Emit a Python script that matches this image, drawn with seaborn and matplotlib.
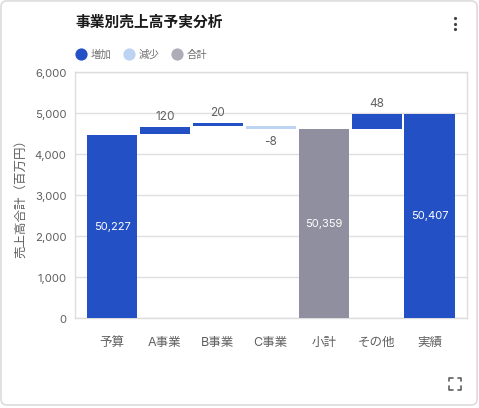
import matplotlib
matplotlib.use("Agg")
import matplotlib.pyplot as plt
import seaborn as sns
from matplotlib.lines import Line2D
from matplotlib.patches import FancyBboxPatch

categories = ["予算", "A事業", "B事業", "C事業", "小計", "その他", "実績"]
bar_bottoms = [0, 4500, 4695, 4630, 0, 4620, 0]
bar_tops = [4475, 4678, 4768, 4695, 4620, 4995, 4995]
kinds = ["増加", "増加", "増加", "減少", "合計", "増加", "増加"]
value_labels = ["50,227", "120", "20", "-8", "50,359", "48", "50,407"]
inside = [True, False, False, False, True, False, True]
yticks = [0, 1000, 2000, 3000, 4000, 5000, 6000]
legend_names = ["増加", "減少", "合計"]

W, H = 479, 408
BLUE = "#2350c5"
LIGHT = "#bcd3f2"
GREY = "#908f9f"
colors = {"増加": BLUE, "減少": LIGHT, "合計": GREY}
legend_colors = {"増加": BLUE, "減少": LIGHT, "合計": "#adadb8"}

sns.set_theme(style="white")
plt.rcParams["font.family"] = ["Inter", "Noto Sans CJK JP", "DejaVu Sans"]

fig = plt.figure(figsize=((W + 0.1) / 100, (H + 0.1) / 100), dpi=100)

# card behind everything, coordinates in pixels
bg = fig.add_axes([0, 0, 1, 1], zorder=0)
bg.set_xlim(0, W)
bg.set_ylim(H, 0)
bg.axis("off")
bg.add_patch(FancyBboxPatch((1, 1), W - 3, H - 4, boxstyle="round,pad=0,rounding_size=6",
                            fc="white", ec="#dcdcdc", lw=1.2))

ax = fig.add_axes([75 / W, 1 - 318.5 / H, (466.5 - 75) / W, (318.5 - 72.5) / H], zorder=1)
ax.patch.set_alpha(0)

for cat, b, t, k in zip(categories, bar_bottoms, bar_tops, kinds):
    sns.barplot(x=[cat], y=[t - b], order=categories, bottom=b, color=colors[k],
                saturation=1, width=0.95, gap=0, ax=ax, zorder=3, linewidth=0)

ax.set_xlim(-0.7, 6.7)
ax.set_ylim(0, 6000)
ax.set_yticks(yticks)
ax.set_yticklabels([f"{v:,}" for v in yticks], fontsize=8.2, color="#606060")
ax.set_xlabel("")
ax.set_ylabel("")
ax.tick_params(axis="x", length=0, pad=13, labelsize=9, labelcolor="#606060")
ax.tick_params(axis="y", length=0, pad=6)
ax.grid(axis="y", color="#e0e0e0", lw=1, zorder=0)
ax.set_axisbelow(True)
for s in ax.spines.values():
    s.set_color("#dddddd")
    s.set_linewidth(1)

# value labels
for i, (b, t, lab, ins) in enumerate(zip(bar_bottoms, bar_tops, value_labels, inside)):
    if ins:
        ax.text(i, (b + t) / 2, lab, ha="center", va="center", fontsize=8, color="white", zorder=5)
    elif lab.startswith("-"):
        ax.annotate(lab, (i, b), xytext=(0, -5), textcoords="offset points", ha="center", va="top",
                    fontsize=8.5, color="#606060", zorder=5)
    else:
        ax.annotate(lab, (i, t), xytext=(0, 3), textcoords="offset points", ha="center", va="bottom",
                    fontsize=8.5, color="#606060", zorder=5)

bg.text(75, 22.5, "事業別売上高予実分析", fontsize=10.6, fontweight="bold", color="#1a1a1a", va="center")
bg.text(21, 195, "売上高合計（百万円）", rotation=90, fontsize=9, color="#606060", ha="center", va="center")

# legend
for x, name in zip([81, 129, 177], legend_names):
    bg.add_line(Line2D([x], [54], marker="o", ms=8.8, mfc=legend_colors[name], mec="none", ls=""))
    bg.text(x + 10, 54.5, name, fontsize=7.5, color="#707070", va="center")

# three-dot menu
bg.add_line(Line2D([455, 455, 455], [18.5, 24, 29], marker="o", ms=2.3, mfc="#444444", mec="none", ls=""))

# expand icon
ic = dict(color="#606060", lw=1.2, solid_capstyle="round")
for cx, sx in [(449, 1), (461, -1)]:
    for cy, sy in [(378, 1), (390, -1)]:
        bg.plot([cx, cx, cx + 3.5 * sx], [cy + 3.5 * sy, cy, cy], **ic)

fig.savefig("out.png", dpi=100)
